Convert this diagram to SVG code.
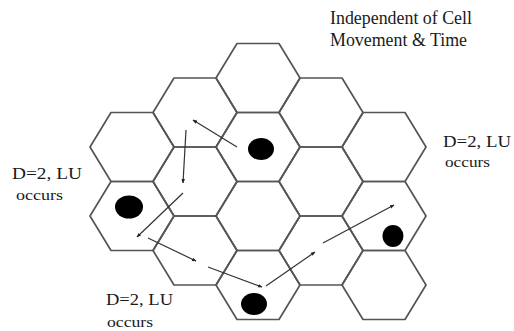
<svg xmlns="http://www.w3.org/2000/svg" width="514" height="331" viewBox="0 0 514 331">
  <style>
    .hex { fill: none; stroke: #555; stroke-width: 1.7; stroke-linejoin: round; }
    .dot { fill: #000; }
    .conn { stroke: #333; stroke-width: 1.2; fill: none; marker-end: url(#ah); }
    .lbl { font-family: "Liberation Serif", "Times New Roman", serif; fill: #1a1a1a; }
    .big { font-size: 17px; }
    .sm { font-size: 14px; }
    .title { font-size: 18px; }
  </style>
  <defs>
    <marker id="ah" viewBox="0 0 10 10" refX="9" refY="5" markerWidth="4.5" markerHeight="4.5" orient="auto" markerUnits="userSpaceOnUse">
      <path d="M0,1 L10,5 L0,9 Z" fill="#222"/>
    </marker>
    <polygon id="h" points="-42,0 -21,-34.5 21,-34.5 42,0 21,34.5 -21,34.5"/>
  </defs>
  <rect width="514" height="331" fill="#fff"/>

  <g id="cells">
    <g id="c0r0"><use href="#h" class="hex" x="132" y="147"/></g>
    <g id="c0r1"><use href="#h" class="hex" x="132" y="216"/></g>
    <g id="c1r0"><use href="#h" class="hex" x="195" y="112.5"/></g>
    <g id="c1r1"><use href="#h" class="hex" x="195" y="181.5"/></g>
    <g id="c1r2"><use href="#h" class="hex" x="195" y="250.5"/></g>
    <g id="c2r0"><use href="#h" class="hex" x="258" y="78"/></g>
    <g id="c2r1"><use href="#h" class="hex" x="258" y="147"/></g>
    <g id="c2r2"><use href="#h" class="hex" x="258" y="216"/></g>
    <g id="c2r3"><use href="#h" class="hex" x="258" y="285"/></g>
    <g id="c3r0"><use href="#h" class="hex" x="321" y="112.5"/></g>
    <g id="c3r1"><use href="#h" class="hex" x="321" y="181.5"/></g>
    <g id="c3r2"><use href="#h" class="hex" x="321" y="250.5"/></g>
    <g id="c4r0"><use href="#h" class="hex" x="384" y="147"/></g>
    <g id="c4r1"><use href="#h" class="hex" x="384" y="216"/></g>
    <g id="c4r2"><use href="#h" class="hex" x="384" y="285"/></g>
  </g>

  <g id="terminals">
    <g id="dot1"><ellipse class="dot" cx="261" cy="149" rx="13" ry="11"/></g>
    <g id="dot2"><ellipse class="dot" cx="129" cy="207" rx="14" ry="11.5"/></g>
    <g id="dot3"><ellipse class="dot" cx="393" cy="236" rx="10.5" ry="11"/></g>
    <g id="dot4"><ellipse class="dot" cx="254" cy="304" rx="13" ry="11"/></g>
  </g>

  <g id="connectors">
    <line class="conn" x1="237" y1="147" x2="193" y2="120"/>
    <line class="conn" x1="186" y1="130" x2="183" y2="183"/>
    <line class="conn" x1="183" y1="193" x2="137" y2="237"/>
    <line class="conn" x1="148" y1="238" x2="196" y2="261"/>
    <line class="conn" x1="208" y1="267" x2="262" y2="287"/>
    <line class="conn" x1="266" y1="286" x2="315" y2="252"/>
    <line class="conn" x1="323" y1="243" x2="394" y2="205"/>
  </g>

  <g id="title">
    <text class="lbl title" x="330" y="24" textLength="142" lengthAdjust="spacingAndGlyphs">Independent of Cell</text>
    <text class="lbl title" x="330" y="46" textLength="137" lengthAdjust="spacingAndGlyphs">Movement &amp; Time</text>
  </g>
  <g id="label-left">
    <text class="lbl big" x="12" y="179" textLength="70" lengthAdjust="spacingAndGlyphs">D=2, LU</text>
    <text class="lbl sm" x="16" y="200" textLength="47" lengthAdjust="spacingAndGlyphs">occurs</text>
  </g>
  <g id="label-right">
    <text class="lbl big" x="443" y="147" textLength="68" lengthAdjust="spacingAndGlyphs">D=2, LU</text>
    <text class="lbl sm" x="445" y="167" textLength="45" lengthAdjust="spacingAndGlyphs">occurs</text>
  </g>
  <g id="label-bottom">
    <text class="lbl big" x="106" y="305" textLength="67" lengthAdjust="spacingAndGlyphs">D=2, LU</text>
    <text class="lbl sm" x="107" y="327" textLength="46" lengthAdjust="spacingAndGlyphs">occurs</text>
  </g>
</svg>
